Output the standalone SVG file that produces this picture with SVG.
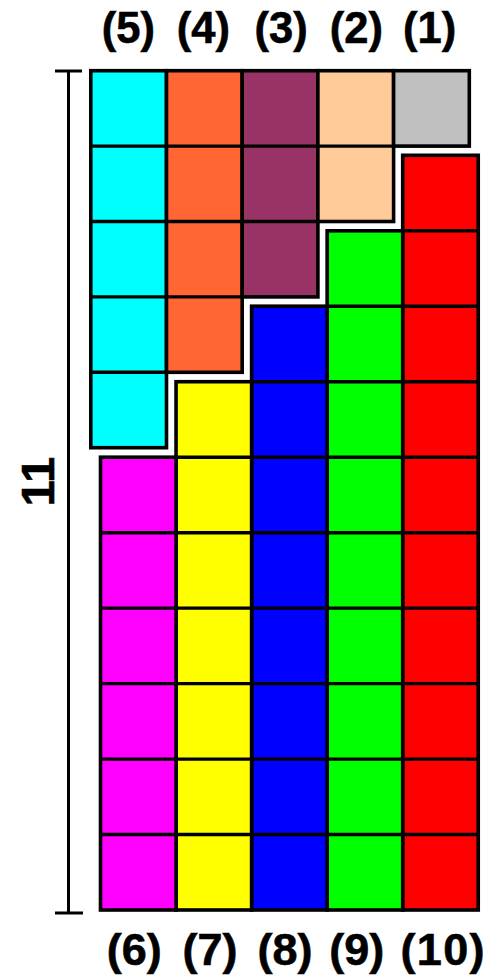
<svg xmlns="http://www.w3.org/2000/svg" width="492" height="976" viewBox="0 0 492 976">
<style>
.col{stroke:#000;stroke-width:3.6;stroke-linejoin:miter}
.div{stroke:#000;stroke-width:3.4;fill:none}
.lbl{font-family:"Liberation Sans",Arial,sans-serif;font-weight:bold;fill:#000;stroke:#000;stroke-width:0.6;text-anchor:middle}
.top{font-size:43.5px}
.bot{font-size:45px}
.br{stroke:#000;stroke-width:3;fill:none}
</style>
<rect width="492" height="976" fill="#fff"/>
<g id="col5"><rect class="col" x="90.8" y="70.7" width="75.7" height="377" fill="#00FFFF"/><path class="div" d="M90.8 146.1H166.5M90.8 221.5H166.5M90.8 296.9H166.5M90.8 372.3H166.5"/></g>
<g id="col4"><rect class="col" x="166.5" y="70.7" width="75.7" height="301.6" fill="#FF6633"/><path class="div" d="M166.5 146.1H242.2M166.5 221.5H242.2M166.5 296.9H242.2"/></g>
<g id="col3"><rect class="col" x="242.2" y="70.7" width="75.7" height="226.2" fill="#993366"/><path class="div" d="M242.2 146.1H317.9M242.2 221.5H317.9"/></g>
<g id="col2"><rect class="col" x="317.9" y="70.7" width="75.7" height="150.8" fill="#FFCC99"/><path class="div" d="M317.9 146.1H393.6"/></g>
<g id="col1"><rect class="col" x="393.6" y="70.7" width="75.7" height="75.4" fill="#C0C0C0"/></g>
<g id="col10"><rect class="col" x="402.7" y="155.3" width="75.55" height="754.7" fill="#FF0000"/><path class="div" d="M402.7 230.8H478.25M402.7 306.2H478.25M402.7 381.7H478.25M402.7 457.2H478.25M402.7 532.7H478.25M402.7 608.1H478.25M402.7 683.6H478.25M402.7 759.1H478.25M402.7 834.5H478.25"/></g>
<g id="col9"><rect class="col" x="327.15" y="230.8" width="75.55" height="679.2" fill="#00FF00"/><path class="div" d="M327.15 306.2H402.7M327.15 381.7H402.7M327.15 457.2H402.7M327.15 532.7H402.7M327.15 608.1H402.7M327.15 683.6H402.7M327.15 759.1H402.7M327.15 834.5H402.7"/></g>
<g id="col8"><rect class="col" x="251.6" y="306.2" width="75.55" height="603.8" fill="#0000FF"/><path class="div" d="M251.6 381.7H327.15M251.6 457.2H327.15M251.6 532.7H327.15M251.6 608.1H327.15M251.6 683.6H327.15M251.6 759.1H327.15M251.6 834.5H327.15"/></g>
<g id="col7"><rect class="col" x="176.05" y="381.7" width="75.55" height="528.3" fill="#FFFF00"/><path class="div" d="M176.05 457.2H251.6M176.05 532.7H251.6M176.05 608.1H251.6M176.05 683.6H251.6M176.05 759.1H251.6M176.05 834.5H251.6"/></g>
<g id="col6"><rect class="col" x="100.5" y="457.2" width="75.55" height="452.8" fill="#FF00FF"/><path class="div" d="M100.5 532.7H176.05M100.5 608.1H176.05M100.5 683.6H176.05M100.5 759.1H176.05M100.5 834.5H176.05"/></g>
<g id="dimension">
<path class="br" d="M55 71H82M68.5 71V913M55 913H83"/>
<text class="lbl" style="font-size:47px" transform="translate(54,481.7) rotate(-90)" x="0" y="0">11</text>
</g>
<g id="labels">
<text class="lbl top" x="128.3" y="43">(5)</text>
<text class="lbl top" x="203.3" y="43">(4)</text>
<text class="lbl top" x="281.2" y="43">(3)</text>
<text class="lbl top" x="356.3" y="43">(2)</text>
<text class="lbl top" x="429.7" y="43">(1)</text>
<text class="lbl bot" x="134.2" y="965">(6)</text>
<text class="lbl bot" x="210" y="965">(7)</text>
<text class="lbl bot" x="285" y="965">(8)</text>
<text class="lbl bot" x="356.7" y="965">(9)</text>
<text class="lbl bot" x="442.5" y="965" textLength="84" lengthAdjust="spacing">(10)</text>
</g>
</svg>
